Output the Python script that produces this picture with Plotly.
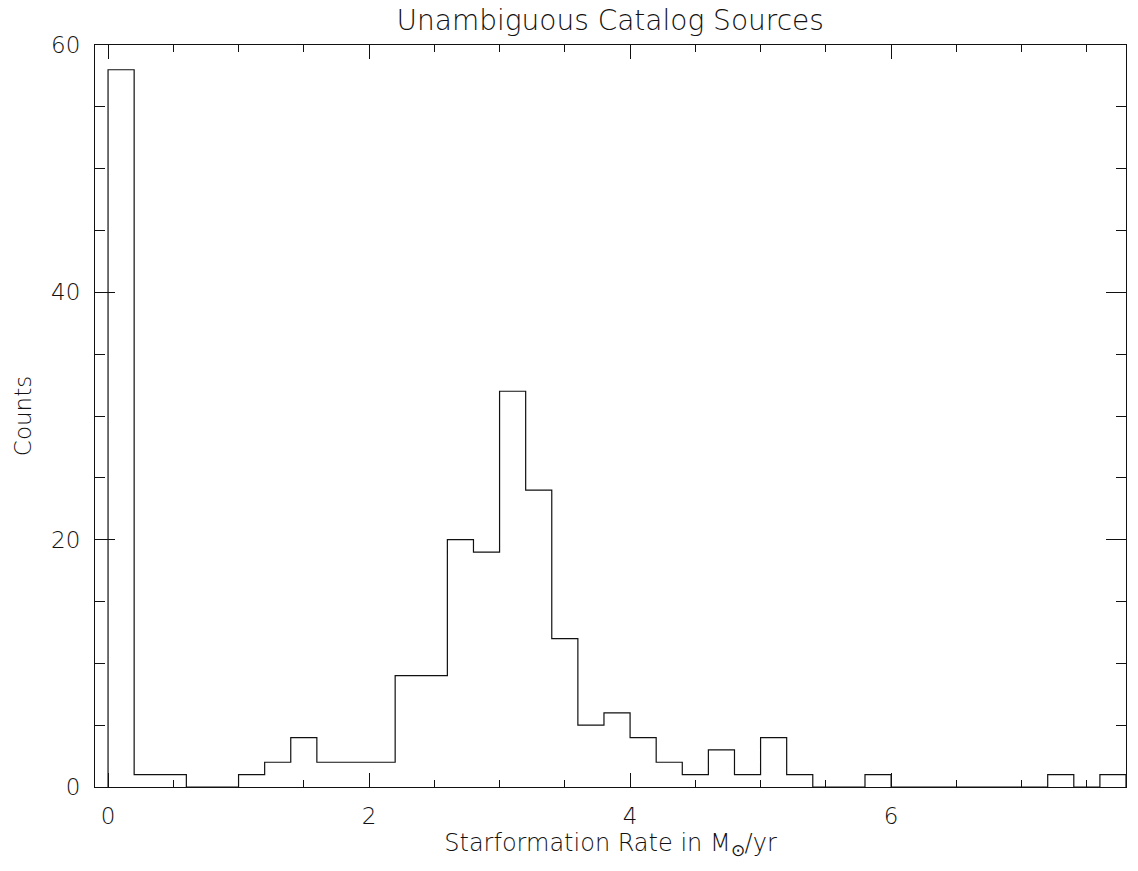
import plotly.graph_objects as go

# Histogram of star-formation rates (bin width 0.2 Msun/yr)
bin_left = [0.0, 0.2, 0.4, 0.6, 0.8, 1.0, 1.2, 1.4, 1.6, 1.8,
            2.0, 2.2, 2.4, 2.6, 2.8, 3.0, 3.2, 3.4, 3.6, 3.8,
            4.0, 4.2, 4.4, 4.6, 4.8, 5.0, 5.2, 5.4, 5.6, 5.8,
            6.0, 6.2, 6.4, 6.6, 6.8, 7.0, 7.2, 7.4, 7.6]
counts = [58, 1, 1, 0, 0, 1, 2, 4, 2, 2,
          2, 9, 9, 20, 19, 32, 24, 12, 5, 6,
          4, 2, 1, 3, 1, 4, 1, 0, 0, 1,
          0, 0, 0, 0, 0, 0, 1, 0, 1]
bin_right_end = 7.8

x_ticks = [0, 2, 4, 6]
y_ticks = [0, 20, 40, 60]

FONT = "DejaVu Sans"
INK = "#111111"

# Step outline: start on the baseline, close back down after the last bin
xs = [bin_left[0]] + bin_left + [bin_right_end]
ys = [0] + counts + [0]

fig = go.Figure(go.Scatter(
    x=xs, y=ys, mode="lines", line_shape="hv",
    line=dict(color="#111111", width=1.2),
    hoverinfo="skip", showlegend=False,
))

axis_common = dict(
    showline=True, linecolor="#111111", linewidth=1.2, mirror="allticks",
    ticks="inside", tickcolor="#111111", tickwidth=1.2,
    showgrid=False, zeroline=False,
    tickfont=dict(family=FONT, size=23, color=INK, weight=200),
)

fig.update_layout(
    width=1138, height=871,
    margin=dict(l=95, r=12, t=45, b=84),
    paper_bgcolor="white", plot_bgcolor="white",
    title=dict(text="Unambiguous Catalog Sources", x=0.5362, xanchor="center",
               y=0.977, yanchor="middle",
               font=dict(family=FONT, size=28, color=INK, weight=200)),
    xaxis=dict(range=[-0.1, 7.8], tickvals=x_ticks, ticklen=14,
               minor=dict(dtick=0.5, tick0=0, ticks="inside", ticklen=7,
                          tickcolor="#111111", tickwidth=1.2),
               ticklabelstandoff=8,
               title=dict(text="Starformation Rate in M<sub>⊙</sub>/yr",
                          font=dict(family=FONT, size=24, color=INK, weight=200),
                          standoff=4),
               **axis_common),
    yaxis=dict(range=[0, 60], tickvals=y_ticks, ticklen=20,
               minor=dict(dtick=5, tick0=0, ticks="inside", ticklen=10,
                          tickcolor="#111111", tickwidth=1.2),
               ticklabelstandoff=9,
               title=dict(text="Counts",
                          font=dict(family=FONT, size=23, color=INK, weight=200),
                          standoff=12),
               **axis_common),
)

fig.write_html("out.html")
